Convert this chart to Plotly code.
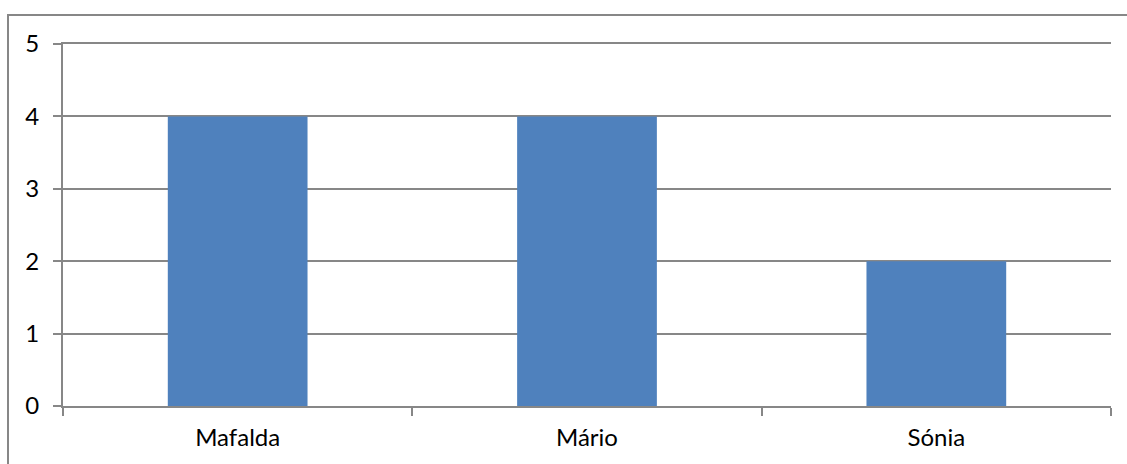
import plotly.graph_objects as go

# Data
names = ["Mafalda", "Mário", "Sónia"]
counts = [4, 4, 2]
y_ticks = [0, 1, 2, 3, 4, 5]

W, H = 1127, 464
ML, MR, MT, MB = 63, 16, 44, 58
line_col = "#878787"

fig = go.Figure(
    go.Bar(
        x=names,
        y=counts,
        width=0.4,
        marker=dict(color="#4F81BD", line=dict(width=0)),
    )
)

fig.update_layout(
    width=W,
    height=H,
    margin=dict(l=ML, r=MR, t=MT, b=MB, pad=0),
    paper_bgcolor="white",
    plot_bgcolor="white",
    showlegend=False,
    font=dict(family="Lato, Carlito, Calibri, sans-serif", size=24, color="black"),
    bargap=0.6,
)

fig.update_xaxes(
    showgrid=False,
    showline=True,
    mirror=True,
    linecolor=line_col,
    linewidth=2,
    ticks="outside",
    tickson="boundaries",
    ticklen=8,
    tickwidth=2,
    tickcolor=line_col,
    ticklabelstandoff=9,
    tickfont=dict(size=24),
)

fig.update_yaxes(
    range=[0, 5],
    tickvals=y_ticks,
    showgrid=True,
    gridcolor=line_col,
    gridwidth=2,
    showline=True,
    linecolor=line_col,
    linewidth=2,
    ticks="outside",
    ticklen=8,
    tickwidth=2,
    tickcolor=line_col,
    ticklabelstandoff=9,
    tickfont=dict(size=24),
    zeroline=False,
)

# Outer frame around the chart area (right and bottom edges fall outside the page)
fig.add_shape(
    type="rect",
    xref="paper",
    yref="paper",
    x0=(8 - ML) / (W - ML - MR),
    x1=(W + 10 - ML) / (W - ML - MR),
    y0=-(MB + 10) / (H - MT - MB),
    y1=(H - MB - 15) / (H - MT - MB),
    line=dict(color=line_col, width=2),
    fillcolor="rgba(0,0,0,0)",
    layer="below",
)

fig.write_html("out.html")
